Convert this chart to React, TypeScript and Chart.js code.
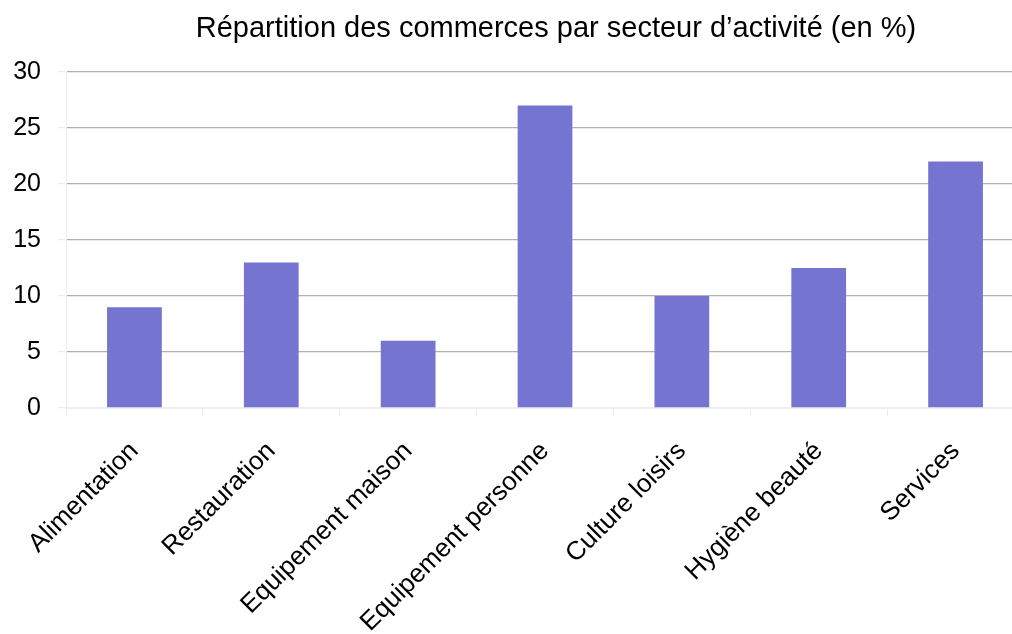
import React, { useEffect, useRef } from "react";
import { Chart, registerables } from "chart.js";

Chart.register(...registerables);

const TITLE = "Répartition des commerces par secteur d’activité (en %)";
const categories = [
  "Alimentation",
  "Restauration",
  "Equipement maison",
  "Equipement personne",
  "Culture loisirs",
  "Hygiène beauté",
  "Services",
];
const values = [9, 13, 6, 27, 10, 12.5, 22];
const yMin = 0;
const yMax = 30;
const yStep = 5;

const FONT = "'Liberation Sans', Arial, sans-serif";

export default function App() {
  const ref = useRef<HTMLCanvasElement | null>(null);

  useEffect(() => {
    document.body.style.overflow = "hidden";
    const canvas = ref.current;
    if (!canvas) return;

    const titlePlugin = {
      id: "customTitle",
      afterDraw(chart: any) {
        const { ctx, chartArea } = chart;
        ctx.save();
        ctx.font = `29px ${FONT}`;
        ctx.fillStyle = "#000";
        ctx.textAlign = "center";
        ctx.textBaseline = "middle";
        ctx.fillText(TITLE, (chartArea.left + chartArea.right) / 2 + 11, 29);
        ctx.restore();
      },
    };

    const chart = new Chart(canvas, {
      type: "bar",
      data: {
        labels: categories,
        datasets: [
          {
            data: values,
            backgroundColor: "#7575d1",
            borderWidth: 0,
            barPercentage: 0.4,
            categoryPercentage: 1,
          },
        ],
      },
      plugins: [titlePlugin],
      options: {
        animation: false,
        responsive: true,
        maintainAspectRatio: false,
        layout: { padding: { left: 0, right: 16, top: 72, bottom: 0 } },
        plugins: {
          legend: { display: false },
          title: { display: false },
          tooltip: { enabled: false },
        },
        scales: {
          x: {
            grid: {
              offset: true,
              drawOnChartArea: false,
              drawTicks: true,
              tickLength: 8,
              tickColor: "#eeeeee",
            },
            border: { display: true, color: "#eeeeee", width: 1 },
            ticks: {
              color: "#000",
              font: { family: FONT, size: 26 },
              minRotation: 45,
              maxRotation: 45,
              padding: 20,
              autoSkip: false,
            },
            afterFit: (axis: any) => {
              axis.height = 226;
            },
          },
          y: {
            min: yMin,
            max: yMax,
            grid: {
              color: (c: any) => (c.tick && c.tick.value === 0 ? "#eeeeee" : "#b0b0b0"),
              lineWidth: 1.3,
              drawTicks: true,
              tickLength: 8,
              tickColor: "#eeeeee",
            },
            border: { display: true, color: "#eeeeee", width: 1 },
            ticks: {
              stepSize: yStep,
              color: "#000",
              font: { family: FONT, size: 25 },
              padding: 17,
            },
            afterFit: (axis: any) => {
              axis.width = 66;
            },
          },
        },
      },
    });
    return () => chart.destroy();
  }, []);

  return (
    <div style={{ position: "fixed", left: 0, top: 0, width: 1040, height: 634, background: "#fff" }}>
      <canvas ref={ref} />
    </div>
  );
}
